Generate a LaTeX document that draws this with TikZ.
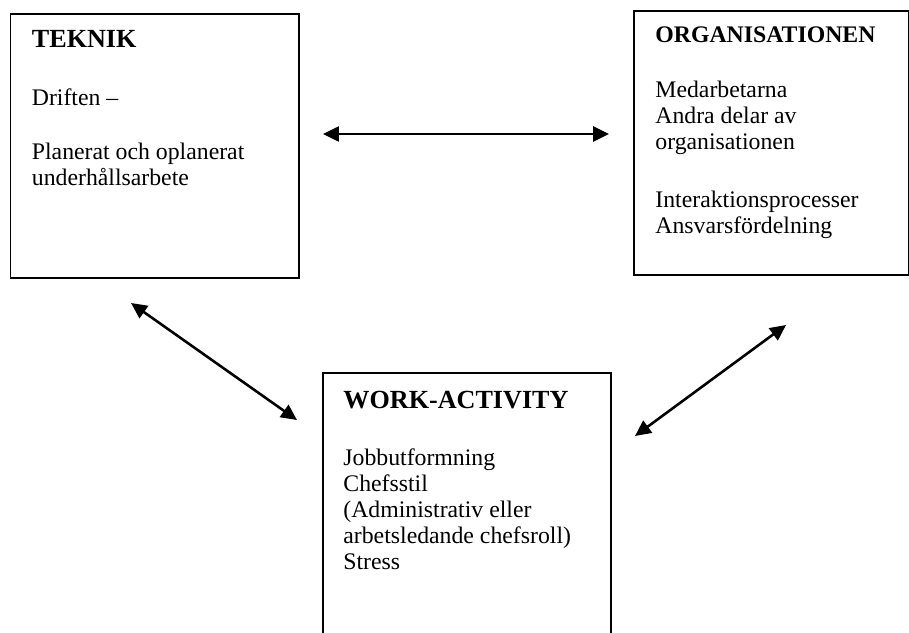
\documentclass[tikz,border=0pt]{standalone}
\usepackage{fontspec}
\setmainfont{Liberation Serif}
\usetikzlibrary{arrows.meta}
\begin{document}
\begin{tikzpicture}[x=0.505pt,y=-0.505pt,
  box/.style={draw, line width=1pt, rectangle, inner sep=0pt, anchor=north west},
  head/.style={inner sep=0pt, anchor=base west, font=\fontsize{13.2}{15}\selectfont\bfseries},
  line/.style={inner sep=0pt, anchor=base west, font=\fontsize{12}{13}\selectfont},
  link/.style={line width=1.3pt, {Triangle[length=8pt,width=7.5pt]}-{Triangle[length=8pt,width=7.5pt]}}]
\clip (0,0) rectangle (909,632);

% Boxes
\node[box, minimum width=288.5*0.505pt, minimum height=263.7*0.505pt] (teknik) at (9.5,13.3) {};
\node[box, minimum width=275*0.505pt, minimum height=264*0.505pt] (org) at (633,10) {};
\node[box, minimum width=288*0.505pt, minimum height=300*0.505pt] (work) at (322,372) {};

% TEKNIK
\node[head] (th) at (31.5,48) {TEKNIK};
\node[line] (t1) at (31.5,106) {Driften –};
\node[line] (t2) at (31.5,159) {Planerat och oplanerat};
\node[line] (t3) at (31.5,185) {underhållsarbete};

% ORGANISATIONEN
\node[head, font=\fontsize{12}{14}\selectfont\bfseries] (oh) at (655,43) {ORGANISATIONEN};
\node[line] (o1) at (655,97) {Medarbetarna};
\node[line] (o2) at (655,123) {Andra delar av};
\node[line] (o3) at (655,149) {organisationen};
\node[line] (o4) at (655,207) {Interaktionsprocesser};
\node[line] (o5) at (655,233) {Ansvarsfördelning};

% WORK-ACTIVITY
\node[head] (wh) at (343,408) {WORK-ACTIVITY};
\node[line] (w1) at (343,465) {Jobbutformning};
\node[line] (w2) at (343,491) {Chefsstil};
\node[line] (w3) at (343,517) {(Administrativ eller};
\node[line] (w4) at (343,543) {arbetsledande chefsroll)};
\node[line] (w5) at (343,569) {Stress};

% Arrow ends
\coordinate (a1) at (323,134);
\coordinate (a2) at (609,134);
\coordinate (b1) at (131,303);
\coordinate (b2) at (297,420);
\coordinate (c1) at (635,436);
\coordinate (c2) at (786,325);

\draw[link] (a1) -- (a2);
\draw[link] (b1) -- (b2);
\draw[link] (c1) -- (c2);
\end{tikzpicture}
\end{document}
